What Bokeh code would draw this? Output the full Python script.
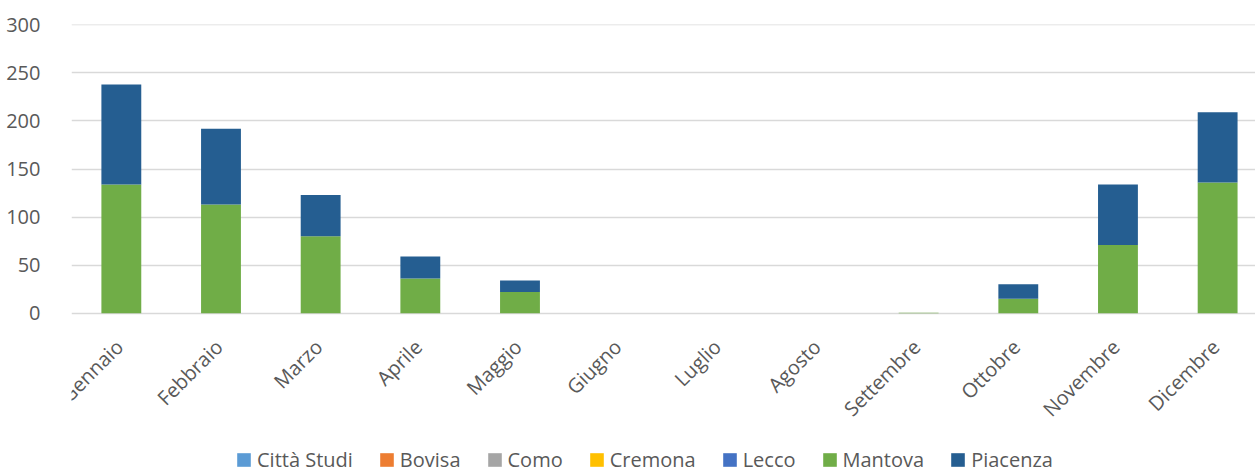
import math
from bokeh.plotting import figure
from bokeh.models import Range1d, FixedTicker, Legend, LegendItem, ColumnDataSource
from bokeh.core.properties import value
from bokeh.embed import file_html
from bokeh.resources import INLINE

months = ["Gennaio", "Febbraio", "Marzo", "Aprile", "Maggio", "Giugno",
          "Luglio", "Agosto", "Settembre", "Ottobre", "Novembre", "Dicembre"]
series_names = ["Città Studi", "Bovisa", "Como", "Cremona", "Lecco", "Mantova", "Piacenza"]

citta_studi = [0, 0, 0, 0, 0, 0, 0, 0, 0, 0, 0, 0]
bovisa = [0, 0, 0, 0, 0, 0, 0, 0, 0, 0, 0, 0]
como = [0, 0, 0, 0, 0, 0, 0, 0, 0, 0, 0, 0]
cremona = [0, 0, 0, 0, 0, 0, 0, 0, 0, 0, 0, 0]
lecco = [0, 0, 0, 0, 0, 0, 0, 0, 0, 0, 0, 0]
mantova = [134, 113, 80, 36, 22, 0, 0, 0, 0.5, 15, 71, 136]
piacenza = [104, 79, 43, 23, 12, 0, 0, 0, 0, 15, 63, 73]

y_ticks = [0, 50, 100, 150, 200, 250, 300]
colors = ["#5B9BD5", "#ED7D31", "#A5A5A5", "#FFC000", "#4472C4", "#70AD47", "#255E91"]

FONT = "Open Sans"
TXT = "#595959"

xs = list(range(len(months)))
source = ColumnDataSource(dict(
    x=xs, month=months,
    **{"Città Studi": citta_studi, "Bovisa": bovisa, "Como": como,
       "Cremona": cremona, "Lecco": lecco, "Mantova": mantova, "Piacenza": piacenza}))

# frame extends down to the page bottom so that month labels and legend sit inside it
p = figure(frame_width=1184, frame_height=449, output_backend="svg", toolbar_location=None,
           x_range=Range1d(-0.5, 11.38), y_range=Range1d(-166.9, 300.4),
           min_border_left=71, min_border_right=0, min_border_top=24,
           min_border_bottom=0)
p.outline_line_color = None
p.background_fill_color = "white"

renderers = p.vbar_stack(series_names, x="x", width=0.4, color=colors,
                         line_color=None, source=source)

p.text(x="x", y=0, text="month", source=source, angle=math.pi / 4,
       text_align="right", text_baseline="middle", x_offset=-2, y_offset=30,
       text_font=value(FONT), text_font_size="20px", text_color=TXT)

p.xgrid.grid_line_color = None
p.ygrid.grid_line_color = "#D9D9D9"
p.ygrid.grid_line_width = 1.3

p.yaxis.ticker = FixedTicker(ticks=y_ticks)
p.yaxis.axis_line_color = None
p.yaxis.major_tick_line_color = None
p.yaxis.minor_tick_line_color = None
p.yaxis.major_label_text_font = FONT
p.yaxis.major_label_text_font_size = "20px"
p.yaxis.major_label_text_color = TXT
p.yaxis.major_label_standoff = 25

p.xaxis.visible = False

items = [LegendItem(label=n, renderers=[r]) for n, r in zip(series_names, renderers)]
legend = Legend(items=items, orientation="horizontal", location=(164, 0),
                glyph_width=17, glyph_height=17, label_standoff=5, spacing=25,
                padding=0, margin=0, border_line_color=None,
                background_fill_alpha=0,
                label_text_font=FONT, label_text_font_size="20px",
                label_text_color=TXT)
p.add_layout(legend, "center")

open("out.html", "w").write(file_html(p, INLINE))
